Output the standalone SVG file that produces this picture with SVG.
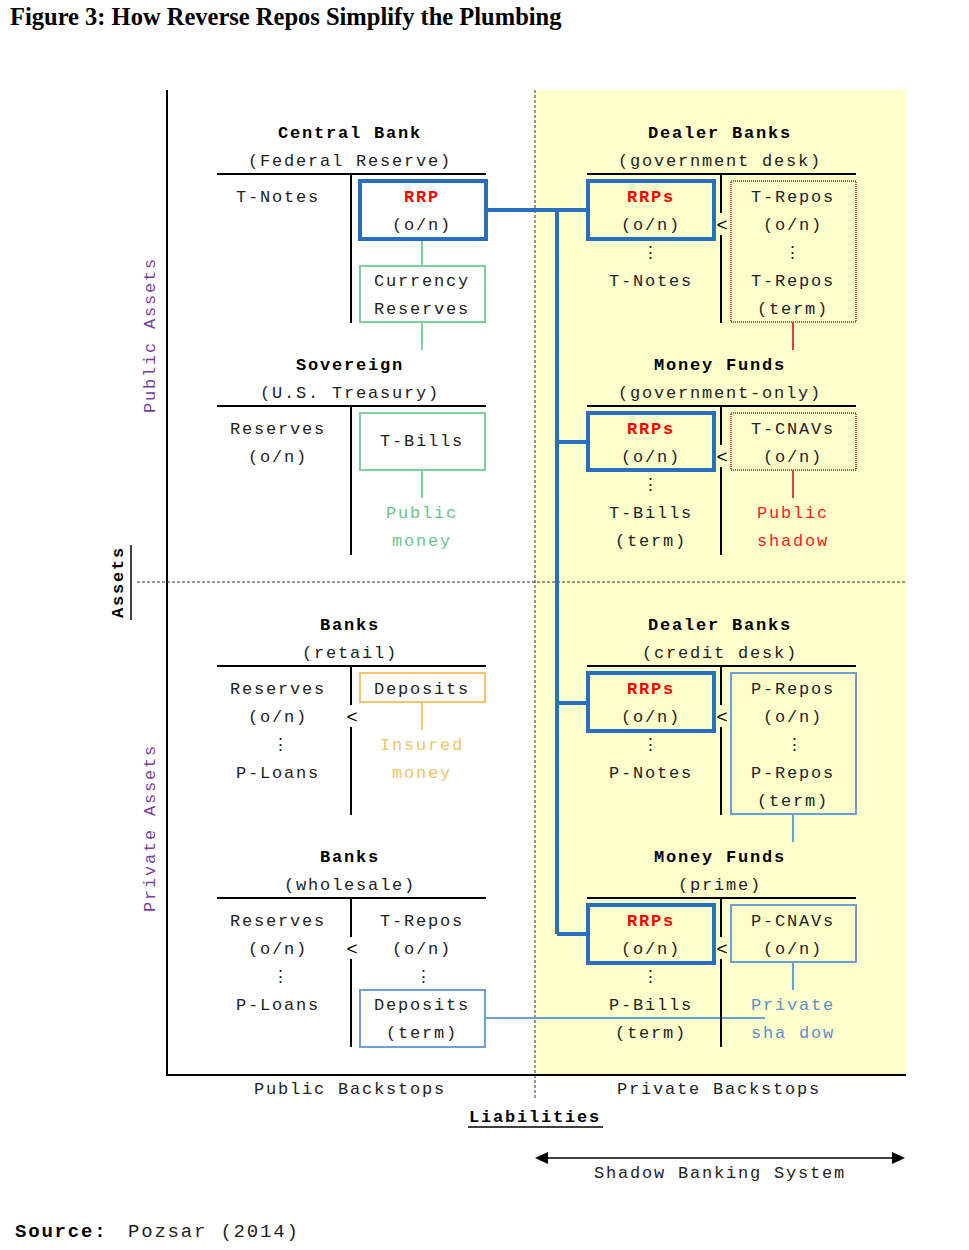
<svg xmlns="http://www.w3.org/2000/svg" width="969" height="1250" viewBox="0 0 969 1250">
<style>
text{font-family:"Liberation Mono",monospace;font-size:17px;letter-spacing:1.8px;fill:#222;text-anchor:middle}
.b{font-weight:bold;fill:#000}
.r{fill:#ff0000;font-weight:bold}
.lt{font-family:"Liberation Sans",sans-serif;font-size:19px;letter-spacing:0;fill:#000}
.g{fill:#6cc58a}.o{fill:#f3c46a}.rd{fill:#ff2020}.lb{fill:#5b8fd0}.pu{fill:#7a3d9e}
.ln{stroke:#000;stroke-width:2;fill:none}
.bb{stroke:#2a6fbd;stroke-width:4;fill:none}
.gb{stroke:#7fd09a;stroke-width:2;fill:#fff}
.rb{stroke:#e83c3c;stroke-width:2;fill:none;stroke-dasharray:1 1}
.ob{stroke:#f5c56a;stroke-width:2;fill:#fff}
.lbb{stroke:#6c9fd8;stroke-width:2;fill:none}
.gy{fill:#ffffcc}.gw{fill:#fff}
</style>
<rect width="969" height="1250" fill="#fff"/>
<text x="10" y="25" style="font-family:'Liberation Serif',serif;font-size:24.5px;font-weight:bold;letter-spacing:0;text-anchor:start;fill:#000">Figure 3: How Reverse Repos Simplify the Plumbing</text>
<rect x="535" y="90" width="371" height="985" fill="#ffffcc"/>
<g id="axes">
<path class="ln" d="M167 90V1075H906"/>
<path d="M535 90V1100M137 582H906" stroke="#333" stroke-width="1" stroke-dasharray="3 2"/>
<text transform="translate(123,582) rotate(-90)" class="b">Assets</text>
<line x1="131" y1="545" x2="131" y2="620" stroke="#000" stroke-width="1.5"/>
<text transform="translate(155,335) rotate(-90)" class="pu">Public Assets</text>
<text transform="translate(155,828) rotate(-90)" class="pu">Private Assets</text>
<text x="350" y="1094">Public Backstops</text>
<text x="719" y="1094">Private Backstops</text>
<text x="535" y="1122" class="b">Liabilities</text>
<line x1="468" y1="1127" x2="603" y2="1127" stroke="#000" stroke-width="1.5"/>
<path d="M545 1158H895" stroke="#000" stroke-width="1.5"/>
<path d="M535 1158l13-6v12zM905 1158l-13-6v12z" fill="#000"/>
<text x="720" y="1178">Shadow Banking System</text>
<text x="15" y="1237" class="b" style="text-anchor:start;font-size:19px">Source:</text>
<text x="128" y="1237" style="text-anchor:start;font-size:19px">Pozsar (2014)</text>
</g>
<g id="connectors">
<path class="bb" d="M486 210H588M557 210V934M557 442H588M557 703H588M557 934H588"/>
<path stroke="#7fd09a" stroke-width="2" d="M422 239V266M422 322V350M422 470V498"/>
<path stroke="#e83c3c" stroke-width="2" d="M793 322V350M793 470V498"/>
<path stroke="#f5c56a" stroke-width="2" d="M422 702V730"/>
<path stroke="#6c9fd8" stroke-width="2" d="M793 814V842M793 962V990M485 1018H765"/>
</g>
<g id="central-bank">
<text x="350" y="138" class="b">Central Bank</text><text x="350" y="166">(Federal Reserve)</text>
<path class="ln" d="M217 174H486M351 174V323"/>
<text x="278" y="202">T-Notes</text>
<rect class="bb" x="360" y="181" width="126" height="58"/>
<text x="422" y="202" class="r">RRP</text><text x="422" y="230">(o/n)</text>
<rect class="gb" x="360" y="266" width="125" height="56"/>
<text x="422" y="286">Currency</text><text x="422" y="314">Reserves</text>
</g>
<g id="sovereign">
<text x="350" y="370" class="b">Sovereign</text><text x="350" y="398">(U.S. Treasury)</text>
<path class="ln" d="M217 406H486M351 406V555"/>
<text x="278" y="434">Reserves</text><text x="278" y="462">(o/n)</text>
<rect class="gb" x="360" y="413" width="125" height="57"/>
<text x="422" y="446">T-Bills</text>
<text x="422" y="518" class="g">Public</text><text x="422" y="546" class="g">money</text>
</g>
<g id="dealer-gov">
<text x="720" y="138" class="b">Dealer Banks</text><text x="720" y="166">(government desk)</text>
<path class="ln" d="M587 174H856M721 174V323"/>
<rect class="bb" x="588" y="181" width="126" height="58"/>
<text x="651" y="202" class="r">RRPs</text><text x="651" y="230">(o/n)</text>
<rect class="gy" x="716" y="213" width="12" height="22"/><text x="722" y="231" class="lt">&lt;</text>
<text x="651" y="258">⋮</text><text x="651" y="286">T-Notes</text>
<rect class="rb" x="731" y="181" width="125" height="141"/>
<text x="793" y="202">T-Repos</text><text x="793" y="230">(o/n)</text><text x="793" y="258">⋮</text>
<text x="793" y="286">T-Repos</text><text x="793" y="314">(term)</text>
</g>
<g id="mmf-gov">
<text x="720" y="370" class="b">Money Funds</text><text x="720" y="398">(government-only)</text>
<path class="ln" d="M587 406H856M721 406V555"/>
<rect class="bb" x="588" y="413" width="126" height="57"/>
<text x="651" y="434" class="r">RRPs</text><text x="651" y="462">(o/n)</text>
<rect class="gy" x="716" y="445" width="12" height="22"/><text x="722" y="463" class="lt">&lt;</text>
<text x="651" y="490">⋮</text><text x="651" y="518">T-Bills</text><text x="651" y="546">(term)</text>
<rect class="rb" x="731" y="413" width="125" height="57"/>
<text x="793" y="434">T-CNAVs</text><text x="793" y="462">(o/n)</text>
<text x="793" y="518" class="rd">Public</text><text x="793" y="546" class="rd">shadow</text>
</g>
<g id="banks-retail">
<text x="350" y="630" class="b">Banks</text><text x="350" y="658">(retail)</text>
<path class="ln" d="M217 666H486M351 666V815"/>
<text x="278" y="694">Reserves</text><text x="278" y="722">(o/n)</text><text x="281" y="750">⋮</text><text x="278" y="778">P-Loans</text>
<rect class="gw" x="345" y="705" width="12" height="22"/><text x="352" y="723" class="lt">&lt;</text>
<rect class="ob" x="360" y="673" width="125" height="29"/>
<text x="422" y="694">Deposits</text>
<text x="422" y="750" class="o">Insured</text><text x="422" y="778" class="o">money</text>
</g>
<g id="banks-wholesale">
<text x="350" y="862" class="b">Banks</text><text x="350" y="890">(wholesale)</text>
<path class="ln" d="M217 898H486M351 898V1047"/>
<text x="278" y="926">Reserves</text><text x="278" y="954">(o/n)</text><text x="281" y="982">⋮</text><text x="278" y="1010">P-Loans</text>
<rect class="gw" x="345" y="937" width="12" height="22"/><text x="352" y="955" class="lt">&lt;</text>
<text x="422" y="926">T-Repos</text><text x="422" y="954">(o/n)</text><text x="424" y="982">⋮</text>
<rect class="lbb" x="360" y="990" width="125" height="57"/>
<text x="422" y="1010">Deposits</text><text x="422" y="1038">(term)</text>
</g>
<g id="dealer-credit">
<text x="720" y="630" class="b">Dealer Banks</text><text x="720" y="658">(credit desk)</text>
<path class="ln" d="M587 666H856M721 666V815"/>
<rect class="bb" x="588" y="673" width="126" height="58"/>
<text x="651" y="694" class="r">RRPs</text><text x="651" y="722">(o/n)</text>
<rect class="gy" x="716" y="705" width="12" height="22"/><text x="722" y="723" class="lt">&lt;</text>
<text x="651" y="750">⋮</text><text x="651" y="778">P-Notes</text>
<rect class="lbb" x="731" y="673" width="125" height="141"/>
<text x="793" y="694">P-Repos</text><text x="793" y="722">(o/n)</text><text x="795" y="750">⋮</text>
<text x="793" y="778">P-Repos</text><text x="793" y="806">(term)</text>
</g>
<g id="mmf-prime">
<text x="720" y="862" class="b">Money Funds</text><text x="720" y="890">(prime)</text>
<path class="ln" d="M587 898H856M721 898V1047"/>
<rect class="bb" x="588" y="905" width="126" height="58"/>
<text x="651" y="926" class="r">RRPs</text><text x="651" y="954">(o/n)</text>
<rect class="gy" x="716" y="937" width="12" height="22"/><text x="722" y="955" class="lt">&lt;</text>
<text x="651" y="982">⋮</text><text x="651" y="1010">P-Bills</text><text x="651" y="1038">(term)</text>
<rect class="lbb" x="731" y="905" width="125" height="57"/>
<text x="793" y="926">P-CNAVs</text><text x="793" y="954">(o/n)</text>
<text x="793" y="1010" class="lb">Private</text><text x="793" y="1038" class="lb">sha dow</text>
</g>
</svg>
